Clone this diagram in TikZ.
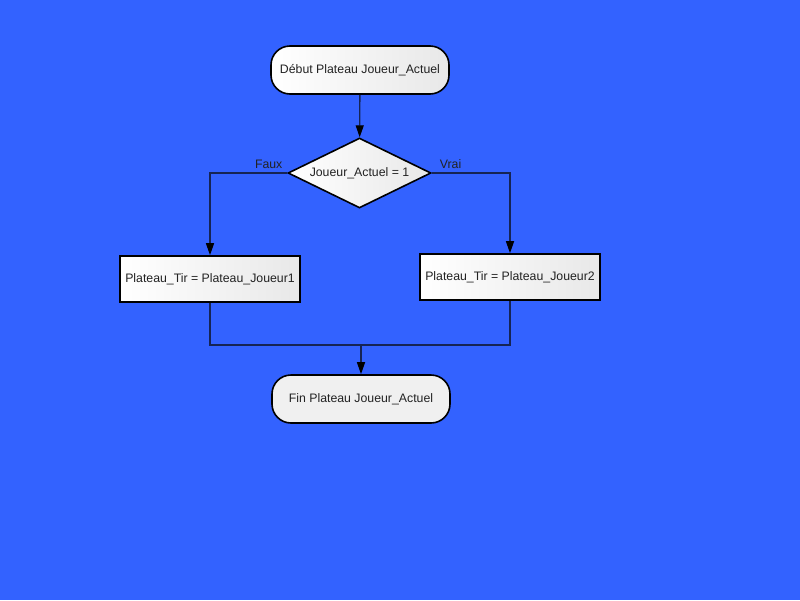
\documentclass[tikz,border=0pt]{standalone}
\usepackage{fontspec}
\setmainfont{Liberation Sans}
\usepackage{tikz}
\usetikzlibrary{positioning,shapes.geometric,arrows.meta}

\definecolor{fond}{RGB}{51,98,255}
\definecolor{trait}{RGB}{22,36,84}
\definecolor{texte}{RGB}{34,34,34}

\tikzset{
    terminal/.style={draw=black, line width=1.6pt, rounded corners=19pt,
        minimum width=178pt, minimum height=48pt, text=texte},
    decision/.style={draw=black, line width=1.6pt, diamond, aspect=2.05,
        minimum width=143pt, minimum height=70pt, inner sep=0pt, text=texte,
        left color=white, right color=black!9},
    action/.style={draw=black, line width=1.6pt, minimum width=180pt,
        minimum height=46pt, text=texte, left color=white, right color=black!9},
    ligne/.style={draw=trait, line width=1.3pt},
    fleche/.style={ligne, -{Triangle[length=12pt,width=8pt,color=black]}},
    etiquette/.style={text=texte, inner sep=4pt}
}

\begin{document}
\begin{tikzpicture}[x=1pt, y=-1pt, font=\fontsize{12.3}{14}\selectfont]
\fill[fond] (0,0) rectangle (800,600);
\useasboundingbox (0,0) rectangle (800,600);

\node[terminal, left color=white, right color=black!9] (debut) at (360,70) {Début Plateau Joueur\_Actuel};
\node[decision] (test) at (359.5,173) {Joueur\_Actuel = 1};
\node[action] (tirun) at (210,279) {Plateau\_Tir = Plateau\_Joueur1};
\node[action] (tirdeux) at (510,277) {Plateau\_Tir = Plateau\_Joueur2};
\coordinate (joint) at (361,345);
\node[terminal, fill=black!6] (fin) at (361,399) {Fin Plateau Joueur\_Actuel};

\draw[fleche] (debut) -- (test);
\draw[fleche] (test.west) -| node[etiquette, above, pos=0.12] {Faux} (tirun);
\draw[fleche] (test.east) -| node[etiquette, above, pos=0.12] {Vrai} (tirdeux);
\draw[ligne] (tirun.south) |- (joint);
\draw[ligne] (tirdeux.south) |- (joint);
\draw[fleche] (joint) -- (fin);
\end{tikzpicture}
\end{document}
